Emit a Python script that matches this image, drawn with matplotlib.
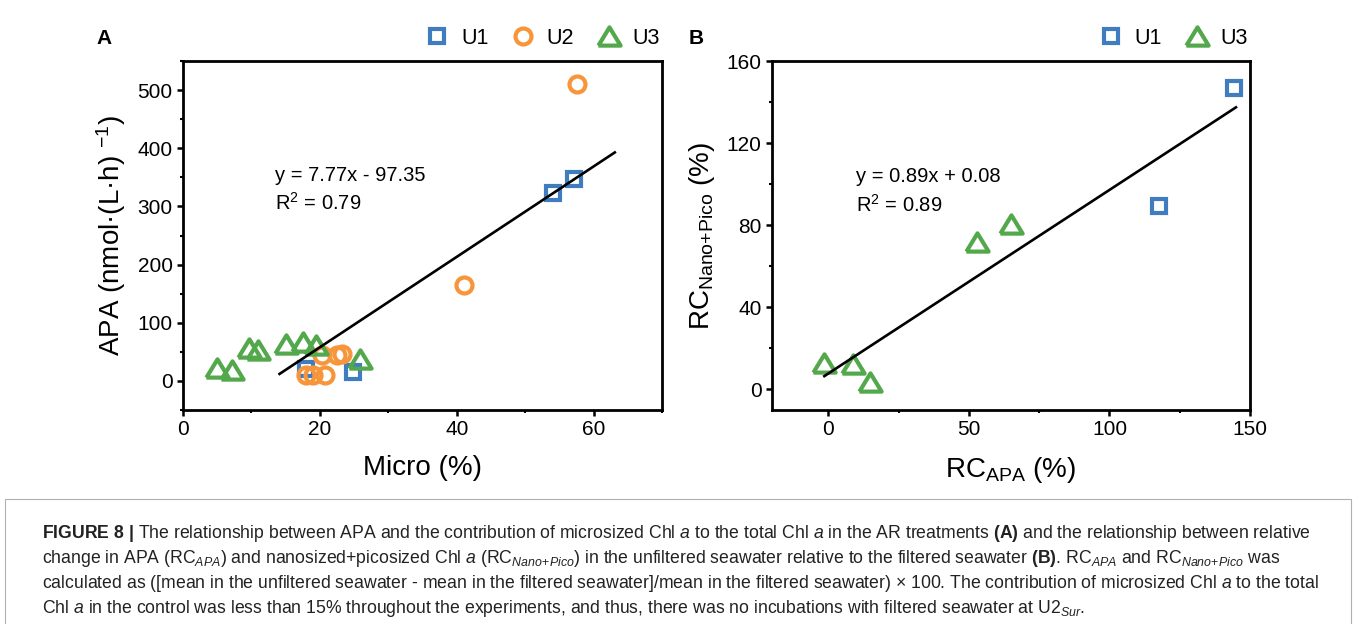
import matplotlib
matplotlib.use("Agg")
import matplotlib.pyplot as plt
from matplotlib.patches import Rectangle
from matplotlib.ticker import MultipleLocator

plt.rcParams['font.family'] = ['Liberation Sans', 'DejaVu Sans']
plt.rcParams['mathtext.fontset'] = 'custom'
plt.rcParams['mathtext.rm'] = 'Liberation Sans'
plt.rcParams['mathtext.it'] = 'Liberation Sans:italic'
plt.rcParams['mathtext.bf'] = 'Liberation Sans:bold'

# panel A: APA vs contribution of microsized Chl a
a_u1_x = [18.0, 24.8, 54.0, 57.2]
a_u1_y = [20, 15, 324, 348]
a_u2_x = [18.0, 19.0, 20.8, 20.3, 22.5, 23.3, 41.1, 57.6]
a_u2_y = [10, 10, 10, 45, 45, 47, 165, 510]
a_u3_x = [4.9, 7.1, 9.7, 11.0, 15.1, 17.5, 19.4, 25.8]
a_u3_y = [22, 19, 56, 54, 64, 67, 62, 37]
fit_a_x = [14.1, 63.1]
fit_a_y = [12, 393]

# panel B: RC_APA vs RC_Nano+Pico
b_u1_x = [117.5, 144.4]
b_u1_y = [89.3, 146.8]
b_u3_x = [-1.4, 8.9, 14.8, 53.0, 64.9]
b_u3_y = [13.0, 12.5, 3.6, 72.0, 80.4]
fit_b_x = [-1.4, 145.0]
fit_b_y = [6.5, 137.5]

blue = '#3f7dc0'
orange = '#f7953b'
green = '#52a84a'

# open triangle, centred on its bounding box
tri = [(-1, -0.82), (1, -0.82), (0, 0.82), (-1, -0.82)]

fig = plt.figure(figsize=(13.58, 6.24), dpi=100)
axA = fig.add_axes([0.1348, 0.343, 0.3527, 0.559])
axB = fig.add_axes([0.5685, 0.343, 0.352, 0.559])

mk = dict(linestyle='none', markerfacecolor='none', markeredgewidth=3)
sq = dict(marker='s', color=blue, markersize=10.5, **mk)
ci = dict(marker='o', color=orange, markersize=11.5, **mk)
tr = dict(marker=tri, color=green, markersize=16, **mk)

axA.plot(a_u1_x, a_u1_y, label='U1', **sq)
axA.plot(a_u2_x, a_u2_y, label='U2', **ci)
axA.plot(a_u3_x, a_u3_y, label='U3', **tr)
axA.plot(fit_a_x, fit_a_y, color='black', lw=1.9)
axA.text(13.4, 354, 'y = 7.77x - 97.35', fontsize=14.5, va='center')
axA.text(13.4, 307, 'R$^2$ = 0.79', fontsize=14.5, va='center')
axA.set_xlim(0, 70)
axA.set_ylim(-50, 550)
axA.xaxis.set_major_locator(MultipleLocator(20))
axA.xaxis.set_minor_locator(MultipleLocator(10))
axA.yaxis.set_major_locator(MultipleLocator(100))
axA.yaxis.set_minor_locator(MultipleLocator(50))
axA.set_xlabel('Micro (%)', fontsize=20, labelpad=11)
axA.set_ylabel('APA (nmol·(L·h) $^{-1}$)', fontsize=20, labelpad=7)

axB.plot(b_u1_x, b_u1_y, label='U1', **sq)
axB.plot(b_u3_x, b_u3_y, label='U3', **tr)
axB.plot(fit_b_x, fit_b_y, color='black', lw=1.9)
axB.text(10, 104, 'y = 0.89x + 0.08', fontsize=14.5, va='center')
axB.text(10, 90, 'R$^2$ = 0.89', fontsize=14.5, va='center')
axB.set_xlim(-20, 150)
axB.set_ylim(-10, 160)
axB.xaxis.set_major_locator(MultipleLocator(50))
axB.xaxis.set_minor_locator(MultipleLocator(25))
axB.yaxis.set_major_locator(MultipleLocator(40))
axB.yaxis.set_minor_locator(MultipleLocator(20))
axB.set_xlabel('RC$_{\\text{APA}}$ (%)', fontsize=20, labelpad=11)
axB.set_ylabel('RC$_{\\text{Nano+Pico}}$ (%)', fontsize=20, labelpad=7)

for ax, letter, lx in [(axA, 'A', -0.18), (axB, 'B', -0.175)]:
    for s in ax.spines.values():
        s.set_linewidth(2)
    ax.tick_params(which='major', direction='out', length=4.5, width=1.8, labelsize=15, pad=3)
    ax.tick_params(which='minor', direction='out', length=2.5, width=1.5)
    ax.legend(loc='center right', bbox_to_anchor=(0.995, 1.066), ncol=3, frameon=False,
              fontsize=15.5, handletextpad=0.5, columnspacing=1.0, borderaxespad=0,
              borderpad=0, handlelength=1.2)
    ax.text(lx, 1.066, letter, transform=ax.transAxes, fontsize=15,
            fontweight='bold', va='center')

# caption box
fig.patches.append(Rectangle((0.004, -0.05), 0.991, 0.2503, transform=fig.transFigure,
                             fill=False, edgecolor='#b0b0b0', lw=0.8))
caption = [
    r'$\mathbf{FIGURE\ 8\ |}$ The relationship between APA and the contribution of microsized Chl $a$ '
    r'to the total Chl $a$ in the AR treatments $\mathbf{(A)}$ and the relationship between relative',
    r'change in APA (RC$_{APA}$) and nanosized+picosized Chl $a$ (RC$_{Nano\!+\!Pico}$) in the unfiltered '
    r'seawater relative to the filtered seawater $\mathbf{(B)}$. RC$_{APA}$ and RC$_{Nano\!+\!Pico}$ was',
    r'calculated as ([mean in the unfiltered seawater - mean in the filtered seawater]/mean in the '
    r'filtered seawater) × 100. The contribution of microsized Chl $a$ to the total',
    r'Chl $a$ in the control was less than 15% throughout the experiments, and thus, there was no '
    r'incubations with filtered seawater at U2$_{Sur}$.',
]
for i, line in enumerate(caption):
    fig.text(0.031, 0.1458 - i * 0.0405, line, fontsize=12.7, va='center', color='#222222')

fig.savefig('out.png', dpi=100)
